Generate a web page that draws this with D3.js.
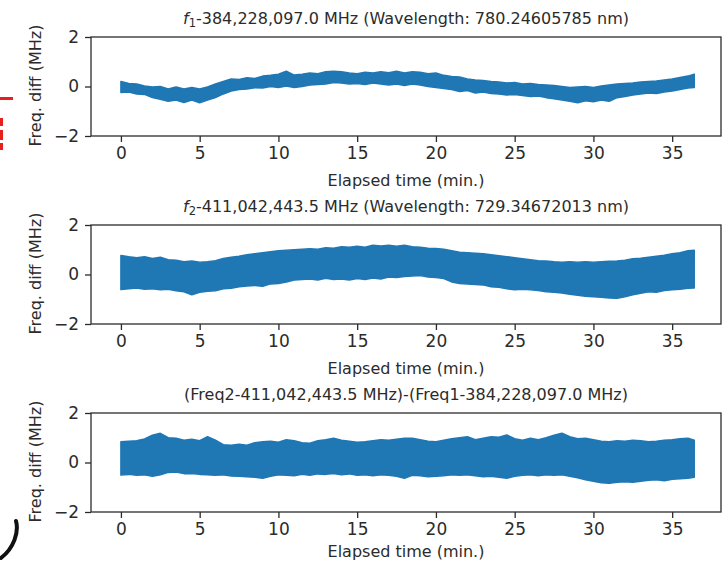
<!DOCTYPE html>
<html>
<head>
<meta charset="utf-8">
<script src="https://cdn.jsdelivr.net/npm/d3@7"></script>
<style>
  body { margin: 0; background: #fff; }
  svg { display: block; font-family: "DejaVu Sans", sans-serif; }
</style>
</head>
<body>
<svg id="chart" width="724" height="563"></svg>
<script>
// elapsed time samples (min.)
const times = [0, 0.5, 1, 1.5, 2, 2.5, 3, 3.5, 4, 4.5, 5, 5.5, 6, 6.5, 7, 7.5, 8, 8.5, 9, 9.5,
  10, 10.5, 11, 11.5, 12, 12.5, 13, 13.5, 14, 14.5, 15, 15.5, 16, 16.5, 17, 17.5, 18, 18.5, 19, 19.5,
  20, 20.5, 21, 21.5, 22, 22.5, 23, 23.5, 24, 24.5, 25, 25.5, 26, 26.5, 27, 27.5, 28, 28.5, 29, 29.5,
  30, 30.5, 31, 31.5, 32, 32.5, 33, 33.5, 34, 34.5, 35, 35.5, 36, 36.4];

// envelope of the noisy trace, MHz
const f1Upper = [0.2, 0.12, 0.1, 0.02, -0.02, 0.0, -0.1, -0.02, -0.1, -0.04, -0.1, -0.02, 0.1, 0.2, 0.3, 0.28, 0.35, 0.32, 0.42, 0.45,
  0.5, 0.62, 0.46, 0.5, 0.55, 0.52, 0.6, 0.62, 0.6, 0.55, 0.52, 0.58, 0.55, 0.6, 0.56, 0.62, 0.55, 0.6, 0.58, 0.52,
  0.55, 0.45, 0.4, 0.38, 0.3, 0.26, 0.24, 0.2, 0.18, 0.14, 0.16, 0.1, 0.12, 0.08, 0.06, 0.04, 0.0, -0.04, -0.02, 0.0,
  -0.04, 0.02, 0.06, 0.1, 0.12, 0.14, 0.18, 0.2, 0.22, 0.26, 0.3, 0.36, 0.42, 0.5];
const f1Lower = [-0.24, -0.22, -0.3, -0.32, -0.45, -0.52, -0.6, -0.55, -0.65, -0.55, -0.66, -0.55, -0.45, -0.3, -0.18, -0.12, -0.1, -0.05, -0.06, 0.0,
  -0.04, 0.02, -0.04, 0.0, 0.06, 0.08, 0.1, 0.16, 0.14, 0.1, 0.12, 0.08, 0.14, 0.1, 0.06, 0.1, 0.04, 0.1, 0.06, 0.0,
  -0.04, -0.08, -0.12, -0.2, -0.16, -0.26, -0.22, -0.28, -0.3, -0.34, -0.32, -0.36, -0.4, -0.38, -0.45, -0.5, -0.55, -0.6, -0.66, -0.58,
  -0.62, -0.55, -0.6, -0.45, -0.4, -0.34, -0.3, -0.26, -0.28, -0.22, -0.18, -0.12, -0.06, -0.04];

const f2Upper = [0.77, 0.72, 0.68, 0.72, 0.65, 0.7, 0.6, 0.58, 0.52, 0.55, 0.5, 0.52, 0.56, 0.65, 0.7, 0.74, 0.8, 0.84, 0.88, 0.92,
  0.96, 0.98, 1.0, 1.02, 1.04, 1.02, 1.08, 1.06, 1.12, 1.1, 1.14, 1.1, 1.18, 1.15, 1.18, 1.14, 1.18, 1.12, 1.1, 1.06,
  1.05, 1.02, 0.96, 0.9, 0.88, 0.86, 0.84, 0.8, 0.76, 0.72, 0.68, 0.64, 0.6, 0.56, 0.55, 0.52, 0.5, 0.52, 0.5, 0.52,
  0.5, 0.52, 0.54, 0.55, 0.58, 0.64, 0.66, 0.7, 0.74, 0.78, 0.84, 0.88, 0.96, 0.98];
const f2Lower = [-0.61, -0.58, -0.55, -0.6, -0.58, -0.62, -0.6, -0.66, -0.7, -0.82, -0.72, -0.68, -0.66, -0.58, -0.56, -0.5, -0.46, -0.44, -0.48, -0.38,
  -0.36, -0.3, -0.22, -0.2, -0.18, -0.22, -0.15, -0.2, -0.18, -0.22, -0.16, -0.2, -0.14, -0.18, -0.1, -0.12, -0.08, -0.06, -0.04, -0.1,
  -0.12, -0.16, -0.3, -0.36, -0.38, -0.4, -0.42, -0.5, -0.52, -0.58, -0.62, -0.6, -0.62, -0.65, -0.7, -0.72, -0.75, -0.8, -0.84, -0.88,
  -0.9, -0.92, -0.95, -0.96, -0.9, -0.82, -0.76, -0.7, -0.72, -0.65, -0.62, -0.6, -0.56, -0.55];

const dUpper = [0.84, 0.86, 0.88, 0.95, 1.1, 1.18, 1.0, 0.98, 0.9, 0.94, 0.88, 1.04, 0.9, 0.72, 0.7, 0.74, 0.7, 0.8, 0.84, 0.86,
  0.82, 0.92, 0.88, 0.8, 0.78, 0.88, 0.92, 0.98, 0.9, 0.86, 0.82, 0.84, 0.88, 0.92, 0.9, 0.94, 0.98, 0.98, 0.92, 0.86,
  0.84, 0.9, 0.96, 1.0, 1.04, 0.92, 0.98, 1.04, 1.02, 1.11, 0.96, 0.9, 0.98, 0.92, 1.0, 1.1, 1.18, 1.04, 0.96, 0.98,
  0.92, 0.86, 0.84, 0.88, 0.86, 0.9, 0.88, 0.84, 0.86, 0.9, 0.92, 0.96, 0.98, 0.9];
const dLower = [-0.51, -0.48, -0.52, -0.5, -0.56, -0.5, -0.4, -0.38, -0.45, -0.44, -0.48, -0.5, -0.52, -0.5, -0.55, -0.56, -0.58, -0.6, -0.64, -0.56,
  -0.5, -0.52, -0.54, -0.48, -0.52, -0.46, -0.48, -0.44, -0.5, -0.46, -0.52, -0.5, -0.54, -0.5, -0.52, -0.56, -0.64, -0.52, -0.54, -0.58,
  -0.56, -0.54, -0.5, -0.52, -0.5, -0.54, -0.58, -0.56, -0.6, -0.64, -0.56, -0.52, -0.5, -0.54, -0.5, -0.52, -0.5, -0.56, -0.62, -0.7,
  -0.76, -0.82, -0.84, -0.8, -0.78, -0.8, -0.76, -0.72, -0.7, -0.74, -0.68, -0.66, -0.64, -0.6];

const xTicks = [0, 5, 10, 15, 20, 25, 30, 35];
const yTicks = [-2, 0, 2];

const panels = [
  { title: [["f", "i"], ["1", "sub"], ["-384,228,097.0 MHz (Wavelength: 780.24605785 nm)", ""]], upper: f1Upper, lower: f1Lower },
  { title: [["f", "i"], ["2", "sub"], ["-411,042,443.5 MHz (Wavelength: 729.34672013 nm)", ""]], upper: f2Upper, lower: f2Lower },
  { title: [["(Freq2-411,042,443.5 MHz)-(Freq1-384,228,097.0 MHz)", ""]], upper: dUpper, lower: dLower }
];

const svg = d3.select("#chart");
const left = 91, right = 721, plotH = 99;
const ink = "#2b2b2b";
const blue = "#1f77b4";

const x = d3.scaleLinear().domain([-1.9, 38.1]).range([left, right]);

panels.forEach((p, i) => {
  const top = 37 + i * 188;
  const bottom = top + plotH;
  const y = d3.scaleLinear().domain([-2, 2]).range([bottom, top]);
  const g = svg.append("g");

  const pts = times.map((t, k) => ({ t: t, hi: p.upper[k], lo: p.lower[k] }));
  const area = d3.area()
    .x(d => x(d.t))
    .y0(d => y(d.lo))
    .y1(d => y(d.hi));
  g.append("path")
    .datum(pts)
    .attr("d", area)
    .attr("fill", blue)
    .attr("stroke", blue)
    .attr("stroke-width", 1.5)
    .attr("stroke-linejoin", "round");

  // axes
  const xAxis = g.append("g")
    .attr("transform", `translate(0,${bottom})`)
    .call(d3.axisBottom(x).tickValues(xTicks).tickSize(6).tickPadding(5));
  const yAxis = g.append("g")
    .attr("transform", `translate(${left},0)`)
    .call(d3.axisLeft(y).tickValues(yTicks).tickSize(6).tickPadding(6)
      .tickFormat(d => d < 0 ? "\u2212" + Math.abs(d) : d));
  [xAxis, yAxis].forEach(a => {
    a.select(".domain").remove();
    a.selectAll("line").attr("stroke", ink).attr("stroke-width", 1.3);
    a.selectAll("text").attr("fill", ink).style("font-size", "17px").style("font-family", "DejaVu Sans");
  });

  g.append("rect")
    .attr("x", left).attr("y", top)
    .attr("width", right - left).attr("height", plotH)
    .attr("fill", "none").attr("stroke", ink).attr("stroke-width", 1.3);

  const title = g.append("text")
    .attr("x", (left + right) / 2).attr("y", top - 13)
    .attr("text-anchor", "middle")
    .attr("fill", ink).style("font-size", "16px");
  p.title.forEach(([s, kind]) => {
    const ts = title.append("tspan").text(s);
    if (kind === "i") ts.style("font-style", "italic");
    if (kind === "sub") ts.attr("baseline-shift", "-25%").style("font-size", "11.5px");
  });

  // last label sits at the picture's bottom edge, keep it inside
  g.append("text")
    .attr("x", (left + right) / 2).attr("y", Math.min(bottom + 50, 557))
    .attr("text-anchor", "middle")
    .attr("fill", ink).style("font-size", "16px")
    .text("Elapsed time (min.)");

  g.append("text")
    .attr("transform", `translate(41,${(top + bottom) / 2 - 1}) rotate(-90)`)
    .attr("text-anchor", "middle")
    .attr("fill", ink).style("font-size", "16px")
    .text("Freq. diff (MHz)");
});

// scan leftovers at the left edge of the picture
svg.append("path").attr("d", "M0,98.5H13").attr("stroke", "#e8201c").attr("stroke-width", 3);
svg.append("path").attr("d", "M1.5,118V126M1.5,130V140M1.5,143V150").attr("stroke", "#e8201c").attr("stroke-width", 3);
svg.append("path").attr("d", "M16,521C19,532 14,548 1,558")
  .attr("fill", "none").attr("stroke", "#111").attr("stroke-width", 4).attr("stroke-linecap", "round");
</script>
</body>
</html>
